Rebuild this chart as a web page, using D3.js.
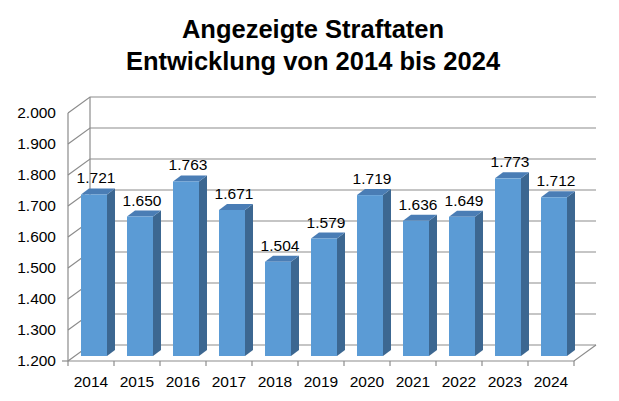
<!DOCTYPE html>
<html><head><meta charset="utf-8">
<script src="https://cdn.jsdelivr.net/npm/d3@7"></script>
<style>body{margin:0;background:#fff}</style>
</head><body><div class="center"></div>
<script>
var years = ["2014","2015","2016","2017","2018","2019","2020","2021","2022","2023","2024"];
var values = [1721,1650,1763,1671,1504,1579,1719,1636,1649,1773,1712];
var yTicks = [1200,1300,1400,1500,1600,1700,1800,1900,2000];

var width = 619, height = 401;
var depthX = 22, depthY = -16;   // wall depth
var barDX = 8, barDY = -6;       // bar depth
var fmt = function(v){ return d3.format(",")(v).replace(",", "."); };

var svg = d3.select(".center").append("svg")
    .attr("width", width).attr("height", height)
    .style("font-family", "Arial, 'Liberation Sans', sans-serif");

svg.append("text").attr("x", 313).attr("y", 38).attr("text-anchor", "middle")
    .attr("font-size", "25.5px").attr("font-weight", "bold").text("Angezeigte Straftaten");
svg.append("text").attr("x", 313).attr("y", 70).attr("text-anchor", "middle")
    .attr("font-size", "25.5px").attr("font-weight", "bold").text("Entwicklung von 2014 bis 2024");

var x = d3.scaleBand().domain(years).range([68, 574]);
var y = d3.scaleLinear().domain([1200, 2000]).range([361, 113]);

var grid = svg.append("g").attr("stroke", "#8c8c8c").attr("stroke-width", 1.2).attr("fill", "none");
yTicks.forEach(function(t){
  var yy = y(t);
  grid.append("path").attr("d", "M68," + yy + "L" + (68 + depthX) + "," + (yy + depthY) + "L" + (574 + depthX) + "," + (yy + depthY));
  svg.append("text").attr("x", 56).attr("y", yy + 5).attr("text-anchor", "end")
     .attr("font-size", "15.5px").text(fmt(t));
});
grid.append("path").attr("d", "M" + (68 + depthX) + "," + (y(2000) + depthY) + "V" + (y(1200) + depthY));
grid.append("path").attr("d", "M68," + y(2000) + "V" + y(1200) + "H574L" + (574 + depthX) + "," + (y(1200) + depthY));
grid.append("path").attr("d", "M62," + y(1200) + "H68");
years.forEach(function(d){
  grid.append("path").attr("d", "M" + x(d) + "," + y(1200) + "v5");
  svg.append("text").attr("x", x(d) + x.bandwidth()/2).attr("y", 387).attr("text-anchor", "middle")
     .attr("font-size", "15.5px").text(d);
});
grid.append("path").attr("d", "M574," + y(1200) + "v5");

var bw = 26, offX = 7, offY = -5;
var bars = svg.selectAll(".bar").data(values).enter().append("g").attr("class", "bar");
bars.each(function(v, i){
  var g = d3.select(this);
  var x0 = x(years[i]) + x.bandwidth()/2 - bw/2 + offX - barDX/2;
  var x1 = x0 + bw;
  var yt = y(v) + offY, yb = y(1200) + offY;
  g.append("path").attr("fill", "#3c6791")
   .attr("d", "M" + x1 + "," + yb + "L" + (x1 + barDX) + "," + (yb + barDY) + "V" + (yt + barDY) + "L" + x1 + "," + yt + "Z");
  g.append("path").attr("fill", "#4a7db5")
   .attr("d", "M" + x0 + "," + yt + "L" + (x0 + barDX) + "," + (yt + barDY) + "H" + (x1 + barDX) + "L" + x1 + "," + yt + "Z");
  g.append("rect").attr("x", x0).attr("y", yt).attr("width", bw).attr("height", yb - yt).attr("fill", "#5b9bd5");
  g.append("text").attr("x", x0 + bw/2 + 2).attr("y", yt + barDY - 5).attr("text-anchor", "middle")
   .attr("font-size", "15.5px").text(fmt(v));
});
</script></body></html>
